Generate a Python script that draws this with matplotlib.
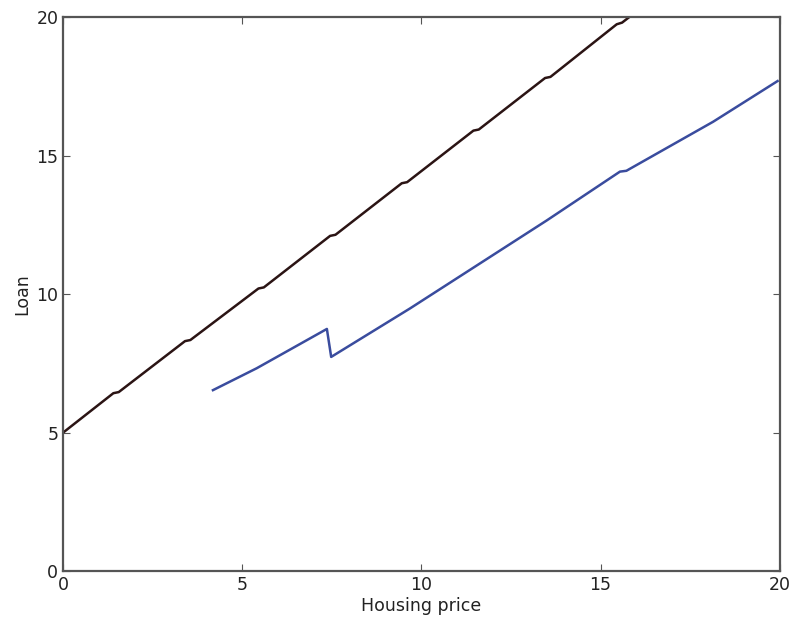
import numpy as np
import matplotlib.pyplot as plt

# upper line (with the small plateaus)
black_x = [0.0, 1.40, 1.55, 3.40, 3.55, 5.45, 5.60, 7.45, 7.60, 9.45, 9.60,
           11.45, 11.60, 13.45, 13.60, 15.45, 15.60, 15.80]
black_y = [5.0, 6.42, 6.46, 8.30, 8.34, 10.20, 10.24, 12.10, 12.14, 14.00, 14.04,
           15.90, 15.94, 17.80, 17.84, 19.74, 19.80, 20.0]

# lower line, with the drop near 7.4
blue_x = [4.18, 5.40, 7.36, 7.48, 9.68, 11.35, 13.50, 15.54, 15.72, 18.14, 19.94]
blue_y = [6.53, 7.32, 8.74, 7.73, 9.48, 10.87, 12.66, 14.42, 14.45, 16.22, 17.69]

xticks = [0, 5, 10, 15, 20]
yticks = [0, 5, 10, 15, 20]

fig = plt.figure(figsize=(7.9, 6.21), dpi=100)
ax = fig.add_axes([0.080, 0.0805, 0.907, 0.892])

ax.plot(black_x, black_y, color='#2b1414', lw=1.8)
ax.plot(blue_x, blue_y, color='#3a4c9e', lw=1.8)

ax.set_xlim(0, 20)
ax.set_ylim(0, 20)
ax.set_xticks(xticks)
ax.set_yticks(yticks)
ax.tick_params(direction='in', top=True, right=True, length=5, width=0.8,
               labelsize=12.5, colors='#555555', labelcolor='#222222')
for s in ax.spines.values():
    s.set_linewidth(1.6)
    s.set_color('#555555')

ax.set_xlabel('Housing price', fontsize=12.5, color='#222222', labelpad=2)
ax.set_ylabel('Loan', fontsize=12.5, color='#222222', labelpad=4)

fig.savefig('out.png', dpi=100)
